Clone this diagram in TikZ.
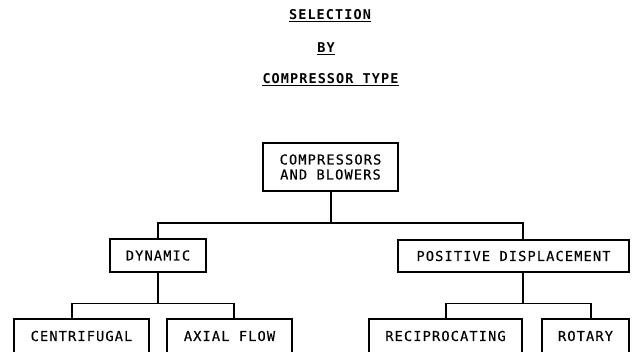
\documentclass[tikz,border=0pt]{standalone}
\usepackage{fontspec}
\newfontfamily\plotfont[LetterSpace=8,FakeBold=0.25]{DejaVu Sans Mono}
\newfontfamily\plotbold[LetterSpace=8]{DejaVu Sans Mono Bold}
\newcommand\boxfont{\plotfont\fontsize{13.7}{15}\selectfont}
\newcommand\ttlfont{\plotbold\fontsize{13.5}{15}\selectfont}
\tikzset{
  box/.style={draw, line width=1.4pt, inner sep=0pt, align=center, font=\boxfont},
  wire/.style={line width=1.4pt},
  ttl/.style={inner sep=0pt, anchor=base, font=\ttlfont},
  uline/.style={line width=1.8pt}
}
\begin{document}
\begin{tikzpicture}[x=1pt,y=1pt]
\clip (0,0) rectangle (632,-351);
\fill[white] (0,0) rectangle (632,-351);
% titles
\node[ttl] (t1) at (330,-19) {SELECTION};
\draw[uline] ([yshift=-2.5pt]t1.base west) -- ([yshift=-2.5pt]t1.base east);
\node[ttl] (t2) at (326,-52) {BY};
\draw[uline] ([yshift=-2.5pt]t2.base west) -- ([yshift=-2.5pt]t2.base east);
\node[ttl] (t3) at (330.5,-83) {COMPRESSOR TYPE};
\draw[uline] ([yshift=-2.5pt]t3.base west) -- ([yshift=-2.5pt]t3.base east);
% boxes
\node[box, minimum width=135pt, minimum height=48pt] (top) at (330.5,-167) {COMPRESSORS\\AND BLOWERS};
\node[box, minimum width=96pt, minimum height=33pt] (dyn) at (158,-255.5) {DYNAMIC};
\node[box, minimum width=231pt, minimum height=32pt] (pd) at (513.5,-256) {POSITIVE DISPLACEMENT};
\node[box, minimum width=135pt, minimum height=34pt] (cen) at (81.5,-336) {CENTRIFUGAL};
\node[box, minimum width=125pt, minimum height=34pt] (axi) at (229.5,-336) {AXIAL FLOW};
\node[box, minimum width=153pt, minimum height=34pt] (rec) at (445.5,-336) {RECIPROCATING};
\node[box, minimum width=87pt, minimum height=34pt] (rot) at (585.5,-336) {ROTARY};
% connectors
\coordinate (lvl1) at (0,-223);
\coordinate (lvl2) at (0,-303.5);
\coordinate (tops) at ([xshift=0.5pt]top.south);
\coordinate (hub) at (tops |- lvl1);
\coordinate (pdn) at ([xshift=9.5pt]pd.north);
\coordinate (pds) at ([xshift=9.5pt]pd.south);
\coordinate (dbr) at (dyn.south |- lvl2);
\coordinate (pbr) at (pds |- lvl2);
\coordinate (cenn) at ([xshift=-9.5pt]cen.north);
\coordinate (axin) at ([xshift=4.5pt]axi.north);
\coordinate (recn) at ([xshift=0.5pt]rec.north);
\coordinate (rotn) at ([xshift=5.5pt]rot.north);
\draw[wire] (tops) -- (hub);
\draw[wire] (dyn.north) |- (hub) -| (pdn);
\draw[wire] (dyn.south) -- (dbr);
\draw[wire] (cenn) |- (dbr) -| (axin);
\draw[wire] (pds) -- (pbr);
\draw[wire] (recn) |- (pbr) -| (rotn);
\end{tikzpicture}
\end{document}
